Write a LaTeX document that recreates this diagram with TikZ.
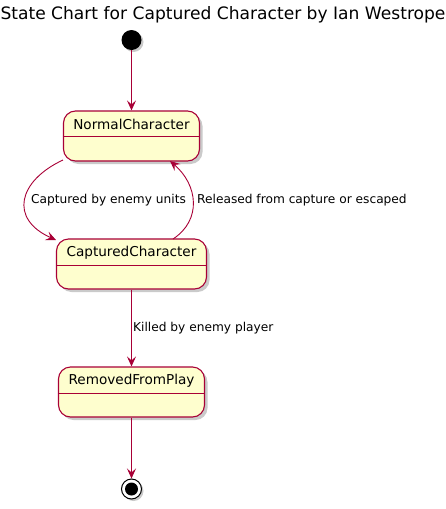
\documentclass[tikz,border=0pt]{standalone}
\usepackage{fontspec}
\setmainfont{DejaVu Sans}
\usetikzlibrary{arrows.meta,shadows}
\definecolor{pborder}{HTML}{A80036}
\definecolor{pfill}{HTML}{FEFECE}
\tikzset{
  x=1pt,y=1pt,
  statebox/.style={draw=pborder, line width=1.1pt, fill=pfill, rounded corners=12pt,
    minimum width=#1, minimum height=50pt, inner sep=0pt,
    drop shadow={shadow xshift=3pt, shadow yshift=-3pt, opacity=0.35, fill=black!60}},
  statename/.style={font=\fontsize{13.6}{15}\selectfont, inner sep=0pt, anchor=center},
  divider/.style={draw=pborder, line width=1pt},
  trans/.style={draw=pborder, line width=0.9pt, -{Stealth[length=10pt,width=9pt,inset=4pt]}},
  tlabel/.style={font=\fontsize{12.2}{14}\selectfont, inner sep=0pt},
}
\begin{document}
\begin{tikzpicture}
\useasboundingbox (0,0) rectangle (446,-509);
% title
\node[font=\fontsize{17.1}{20}\selectfont, inner sep=0pt, anchor=base] (title) at (223,-19) {State Chart for Captured Character by Ian Westrope};
% start
\node[circle, fill=black, minimum size=20pt, inner sep=0pt,
  drop shadow={shadow xshift=2pt, shadow yshift=-2pt, opacity=0.35, fill=black!60}] (start) at (131.5,-40) {};
% states
\node[statebox=136pt] (nc) at (131.5,-136) {};
\node[statename] (ncname) at (131.5,-124.5) {NormalCharacter};
\draw[divider] ([yshift=-26pt]nc.north west) -- ([yshift=-26pt]nc.north east);

\node[statebox=150pt] (cc) at (131.5,-264) {};
\node[statename] (ccname) at (131.5,-252.5) {CapturedCharacter};
\draw[divider] ([yshift=-27pt]cc.north west) -- ([yshift=-27pt]cc.north east);

\node[statebox=146pt] (rp) at (131.5,-392) {};
\node[statename] (rpname) at (131.5,-380.5) {RemovedFromPlay};
\draw[divider] ([yshift=-27pt]rp.north west) -- ([yshift=-27pt]rp.north east);
% end
\node[circle, draw=black, line width=1pt, fill=white, minimum size=20pt, inner sep=0pt,
  drop shadow={shadow xshift=2pt, shadow yshift=-2pt, opacity=0.35, fill=black!60}] (endo) at (131.5,-489) {};
\node[circle, fill=black, minimum size=13pt, inner sep=0pt] (endi) at (endo.center) {};
% transitions
\draw[trans] (start) -- (nc.north);
\coordinate (c1s) at (63,-160);
\coordinate (c1e) at (56,-240);
\draw[trans] (c1s) .. controls (18,-181) and (9,-219) .. (c1e);
\node[tlabel, anchor=west] (l1) at (31,-200) {Captured by enemy units};
\coordinate (c2s) at (173,-239);
\coordinate (c2e) at (170,-161);
\draw[trans] (c2s) .. controls (202,-220) and (198,-185) .. (c2e);
\node[tlabel, anchor=west] (l2) at (197,-200) {Released from capture or escaped};
\draw[trans] (cc.south) -- (rp.north);
\node[tlabel, anchor=west] (l3) at (133,-328) {Killed by enemy player};
\draw[trans] (rp.south) -- (endo.north);
\end{tikzpicture}
\end{document}
